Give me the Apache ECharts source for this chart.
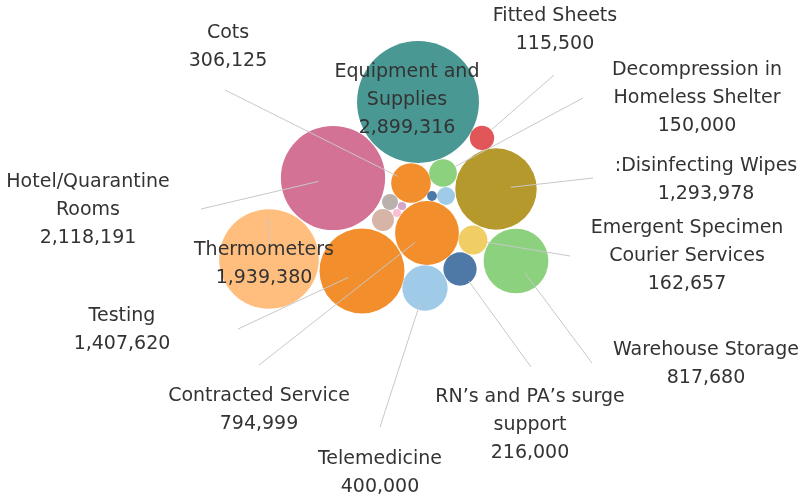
<!DOCTYPE html>
<html>
<head>
<meta charset="utf-8">
<script src="https://cdn.jsdelivr.net/npm/echarts@6/dist/echarts.min.js"></script>
<style>
  html, body { margin: 0; padding: 0; background: #fff; }
  #main { width: 802px; height: 496px; }
</style>
</head>
<body>
<div id="main"></div>
<script>
// categories + values (the six last ones are tiny, unlabeled bubbles)
var names = ['Equipment and\nSupplies', 'Hotel/Quarantine\nRooms', 'Cots', 'Fitted Sheets',
  'Decompression in\nHomeless Shelter', ':Disinfecting Wipes', 'Emergent Specimen\nCourier Services',
  'Warehouse Storage', 'RN\u2019s and PA\u2019s surge\nsupport', 'Telemedicine', 'Contracted Service',
  'Testing', 'Thermometers', 'Other 1', 'Other 2', 'Other 3', 'Other 4', 'Other 5', 'Other 6'];
var values = [2899316, 2118191, 306125, 115500, 150000, 1293978, 162657, 817680, 216000, 400000,
  794999, 1407620, 1939380, 50000, 13000, 13000, 94000, 19000, 63000];
var colors = ['#499894', '#D37295', '#F28E2B', '#E15759', '#8CD17D', '#B6992D', '#F1CE63', '#8CD17D',
  '#4E79A7', '#A0CBE8', '#F28E2B', '#F28E2B', '#FFBE7D', '#BAB0AC', '#D4A6C8', '#FABFD2', '#D7B5A6',
  '#4E79A7', '#A0CBE8'];

// packed layout (bubble centres, label centres, leader line start)
var centers = [[418, 102], [333, 178], [411, 183], [482, 138], [443, 173], [496, 189], [473, 240],
  [516, 261], [460, 269], [425, 288], [427, 233], [362, 271], [269, 259], [390, 202], [402, 206],
  [397, 213], [383, 220], [432, 196], [446, 196]];
var labelPos = [[407, 100], [88, 210], [228, 47], [555, 30], [697, 98], [706, 180], [687, 256],
  [706, 364], [530, 425], [380, 473], [259, 410], [122, 330], [264, 264]];
var lineStart = [null, [201, 209], [225, 90], [554, 75], [583, 98], [593, 178], [570, 256],
  [592, 363], [531, 367], [380, 427], [259, 365], [238, 329], [268, 218]];

var K = 0.0358; // radius per sqrt(value)

var chart = echarts.init(document.getElementById('main'));

var bubbles = values.map(function (v, i) {
  return {
    name: names[i],
    value: [centers[i][0], centers[i][1], v],
    itemStyle: {color: colors[i]},
    label: {show: i < labelPos.length}
  };
});

var leaders = [];
lineStart.forEach(function (s, i) {
  if (!s) return;
  var c = centers[i];
  var r = K * Math.sqrt(values[i]);
  var dx = s[0] - c[0], dy = s[1] - c[1];
  var d = Math.sqrt(dx * dx + dy * dy);
  var k = Math.min(r, 15) / d;
  leaders.push({coords: [s, [c[0] + dx * k, c[1] + dy * k]]});
});

chart.setOption({
  animation: false,
  grid: {left: 0, right: 0, top: 0, bottom: 0},
  xAxis: {type: 'value', min: 0, max: 802, show: false},
  yAxis: {type: 'value', min: 0, max: 496, inverse: true, show: false},
  series: [
    {
      type: 'scatter',
      z: 2,
      data: bubbles,
      symbolSize: function (val) {
        return 2 * K * Math.sqrt(val[2]);
      },
      itemStyle: {opacity: 1},
      label: {
        formatter: function (p) {
          return p.name + '\n' + p.value[2].toLocaleString('en-US');
        },
        fontFamily: 'DejaVu Sans',
        fontSize: 19,
        lineHeight: 28,
        color: '#333',
        align: 'center'
      },
      labelLayout: function (p) {
        var lp = labelPos[p.dataIndex];
        if (!lp) return {};
        return {x: lp[0], y: lp[1], align: 'center', verticalAlign: 'middle'};
      },
      emphasis: {disabled: true}
    },
    {
      type: 'lines',
      coordinateSystem: 'cartesian2d',
      z: 3,
      silent: true,
      lineStyle: {color: '#c8c8c8', width: 1, opacity: 1},
      data: leaders
    }
  ]
});
</script>
</body>
</html>
